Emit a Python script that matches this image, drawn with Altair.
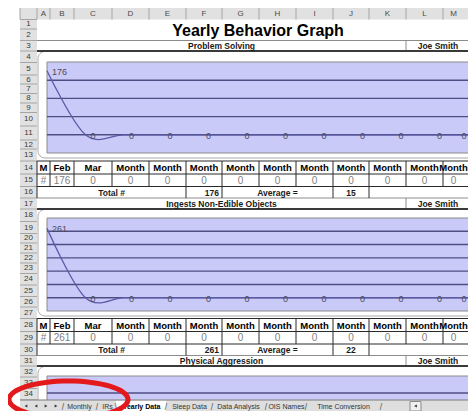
import math
import altair as alt
import pandas as pd

# ------------------------------------------------------------------ data
TITLE = "Yearly Behavior Graph"
STUDENT = "Joe Smith"
SECTIONS = ["Problem Solving", "Ingests Non-Edible Objects", "Physical Aggression"]
ROW_HEAD = ["M", "#"]
MONTHS = ["Feb", "Mar", "Month", "Month", "Month", "Month", "Month",
          "Month", "Month", "Month", "Month", "Month"]
PROBLEM_SOLVING = [176, 0, 0, 0, 0, 0, 0, 0, 0, 0, 0, 0]
INGESTS = [261, 0, 0, 0, 0, 0, 0, 0, 0, 0, 0, 0]
TOTALS = [176, 261]
AVERAGES = [15, 22]
TOTAL_LABEL = "Total #"
AVERAGE_LABEL = "Average ="
GRID_PS = [0, 50, 100, 150]
GRID_INE = [0, 50, 100, 150, 200, 250]
DOMAIN_PS = [-50, 200]
DOMAIN_INE = [-50, 300]
COLUMN_LETTERS = ["A", "B", "C", "D", "E", "F", "G", "H", "I", "J", "K", "L", "M"]
TABS = ["Monthly", "IRs", "Yearly Data", "Sleep Data", "Data Analysis",
        "OIS Names", "Time Conversion"]
ACTIVE_TAB = "Yearly Data"

# ------------------------------------------------------------------ layout (screen pixels)
W, H = 460, 403
OFF = 8
VIEW_R = OFF + W
HDR_L, HDR_B = 20, 19.5
COL_EDGES = [37, 50, 74, 112, 149, 186, 222, 259, 296, 333, 369, 406, 443, 476]
ROW_EDGES = [19.5, 29, 40.5, 51, 62.5, 75, 84, 93.5, 103, 112.5, 126, 140, 149,
             161, 174, 186.5, 198, 209, 221.5, 233.5, 243, 253, 263, 273.5, 285,
             296.5, 307, 318.5, 331.5, 344, 355.5, 366, 377, 388.5, 400, 411]
RIGHT = 476
PLOT_L, PLOT_R = 47, 470.5
BOX_L, BOX_R = 38, 474
PANELS = [(62, 153), (218, 311)]          # plot top / bottom
BOXES = [(51.5, 158), (209.5, 316), (366.5, 430)]
PLOT3 = (376, 420, 393)
SECTION_ROWS = [3, 17, 31]
TABLE_ROWS = [14, 28]
TAB_Y = (400, 412)
TAB_CENTERS = [79.5, 107.5, 141.5, 189.5, 238.5, 286.5, 343.5]
TAB_SEPS = [(63, "/"), (97, "/"), (116, "\\"), (166, "/"), (212, "/"), (266, "/"),
            (306, "/"), (381, "/")]
ACTIVE_BOX = (116, 166)
NAV = [(26, "triangle-left"), (36, "triangle-left"), (46, "triangle-right"), (56, "triangle-right")]
ELL_C = (68.5, 399.5)
ELL_RX, ELL_RY = 59.5, 18.5

FONT = "Liberation Sans, Arial, sans-serif"
LAV = "#CACAF8"
GRID = "#4E4E82"
LINE = "#5A5AA8"

FX = alt.Scale(domain=[OFF, OFF + W], range=[0, W], nice=False, zero=False)
FY = alt.Scale(domain=[OFF, OFF + H], range=[0, H], nice=False, zero=False)


def rc(r):
    return (ROW_EDGES[r - 1] + ROW_EDGES[r]) / 2


def cc(i):
    # centre of the visible part of a column
    return (COL_EDGES[i] + min(COL_EDGES[i + 1], VIEW_R - 4)) / 2


def fx(f):
    return alt.X(f"{f}:Q", scale=FX, axis=None)


def fy(f):
    return alt.Y(f"{f}:Q", scale=FY, axis=None)


def rects(rows, **kw):
    df = pd.DataFrame(rows, columns=["x1", "x2", "y1", "y2"])
    return alt.Chart(df).mark_rect(**kw).encode(
        x=fx("x1"), x2=alt.X2("x2"), y=fy("y1"), y2=alt.Y2("y2"))


def rules(rows, **kw):
    df = pd.DataFrame(rows, columns=["x1", "x2", "y1", "y2"])
    return alt.Chart(df).mark_rule(**kw).encode(
        x=fx("x1"), x2=alt.X2("x2"), y=fy("y1"), y2=alt.Y2("y2"))


def texts(rows, **kw):
    df = pd.DataFrame(rows, columns=["x", "y", "t"])
    kw.setdefault("font", FONT)
    return alt.Chart(df).mark_text(**kw).encode(x=fx("x"), y=fy("y"), text="t:N")


# ------------------------------------------------------------------ chrome
layers = []
layers.append(rects([(HDR_L, RIGHT, OFF, HDR_B), (HDR_L, COL_EDGES[0], HDR_B, ROW_EDGES[-2])],
                    fill="#E1E1E1"))
# chart boxes
layers.append(rects([(BOX_L, BOX_R, a, b) for a, b in BOXES], fill="white",
                    stroke="#A9A9A9", strokeWidth=1, cornerRadius=7))
layers.append(rects([(PLOT_L, PLOT_R, PLOT3[0], PLOT3[1])], fill=LAV, stroke="#8a8a8a", strokeWidth=1))
layers.append(rules([(PLOT_L, PLOT_R, PLOT3[2], PLOT3[2])], color=GRID, strokeWidth=1.4))
# header separators
sep = [(e, e, OFF, HDR_B) for e in [HDR_L] + COL_EDGES]
sep += [(HDR_L, COL_EDGES[0], e, e) for e in ROW_EDGES[:-1]]
layers.append(rules(sep, color="#A5A5A5", strokeWidth=1))
# section header boxes
thin, thick, vert = [], [], []
for r in SECTION_ROWS:
    t, b = ROW_EDGES[r - 1], ROW_EDGES[r]
    thin.append((COL_EDGES[0], RIGHT, t, t))
    thick.append((COL_EDGES[0], RIGHT, b, b))
    vert.append((COL_EDGES[11], COL_EDGES[11], t, b))
layers.append(rules(thin + vert, color="#8C8C8C", strokeWidth=1))
layers.append(rules(thick, color="#3A3A3A", strokeWidth=2))
# tables
tl = []
for base in TABLE_ROWS:
    t14, t15, t16, b16 = (ROW_EDGES[base - 1], ROW_EDGES[base], ROW_EDGES[base + 1],
                          ROW_EDGES[base + 2])
    for y in (t14, t15, t16):
        tl.append((COL_EDGES[0], RIGHT, y, y))
    for e in COL_EDGES:
        tl.append((e, e, t14, t16))
    for e in (COL_EDGES[0], COL_EDGES[5], COL_EDGES[6], COL_EDGES[9], COL_EDGES[10], RIGHT):
        tl.append((e, e, t16, b16))
layers.append(rules(tl, color="#2A2A2A", strokeWidth=1))

# header texts
layers.append(texts([(cc(i), (OFF + HDR_B) / 2 + 0.5, c) for i, c in enumerate(COLUMN_LETTERS)],
                    fontSize=8, color="#4A4A4A"))
layers.append(texts([((HDR_L + COL_EDGES[0]) / 2, rc(r), str(r)) for r in range(1, len(ROW_EDGES))],
                    fontSize=8, color="#3A3A3A"))
layers.append(texts([(258, 31, TITLE)], fontSize=16, fontWeight="bold", color="black"))
sec = []
for k, r in enumerate(SECTION_ROWS):
    sec.append(((COL_EDGES[0] + COL_EDGES[11]) / 2, rc(r) + 0.5, SECTIONS[k]))
    sec.append(((COL_EDGES[11] + VIEW_R) / 2 + 1, rc(r) + 0.5, STUDENT))
for k, base in enumerate(TABLE_ROWS):
    y16 = rc(base + 2) + 0.5
    sec.append(((COL_EDGES[0] + COL_EDGES[5]) / 2, y16, TOTAL_LABEL))
    sec.append(((COL_EDGES[6] + COL_EDGES[9]) / 2, y16, AVERAGE_LABEL))
    sec.append((cc(9), y16, str(AVERAGES[k])))
layers.append(texts(sec, fontSize=8.5, fontWeight="bold", color="#1a1a1a"))
layers.append(texts([(COL_EDGES[6] - 3, rc(b + 2) + 0.5, str(TOTALS[k])) for k, b in enumerate(TABLE_ROWS)],
                    fontSize=8.5, fontWeight="bold", color="#1a1a1a", align="right"))
hdr, vals = [], []
for k, base in enumerate(TABLE_ROWS):
    series = [PROBLEM_SOLVING, INGESTS][k]
    hdr.append((cc(0), rc(base) + 0.5, ROW_HEAD[0]))
    vals.append((cc(0), rc(base + 1) + 0.5, ROW_HEAD[1]))
    for i, m in enumerate(MONTHS):
        hdr.append((cc(i + 1), rc(base) + 0.5, m))
        vals.append((cc(i + 1), rc(base + 1) + 0.5, str(series[i])))
layers.append(texts(hdr, fontSize=9.5, fontWeight="bold", color="black"))
layers.append(texts(vals, fontSize=10, color="#808080"))

chrome = alt.layer(*layers)


# ------------------------------------------------------------------ line panels
def panel(values, grid, dom, top, bottom):
    xs = alt.Scale(domain=[0, len(values) - 1], range=[PLOT_L - OFF, PLOT_R - OFF], nice=False, zero=False)
    ys = alt.Scale(domain=dom, range=[bottom - OFF, top - OFF], nice=False, zero=False)
    n = len(values) - 1
    X = alt.X("i:Q", scale=xs, axis=None)
    Y = alt.Y("v:Q", scale=ys, axis=None)
    bg = alt.Chart(pd.DataFrame({"a": [0], "b": [n], "c": [dom[0]], "d": [dom[1]]})).mark_rect(
        fill=LAV, stroke="#8a8a8a", strokeWidth=1).encode(
        x=alt.X("a:Q", scale=xs, axis=None), x2="b", y=alt.Y("c:Q", scale=ys, axis=None), y2="d")
    gdf = pd.DataFrame({"g": grid, "a": [0] * len(grid), "b": [n] * len(grid)})
    gl = alt.Chart(gdf).mark_rule(color=GRID, strokeWidth=1.4).encode(
        x=alt.X("a:Q", scale=xs, axis=None), x2="b", y=alt.Y("g:Q", scale=ys, axis=None))
    df = pd.DataFrame({"i": list(range(len(values))), "v": values, "lbl": [str(v) for v in values]})
    ln = alt.Chart(df).mark_line(interpolate="cardinal", color=LINE, strokeWidth=1.3).encode(x=X, y=Y)
    lb = alt.Chart(df.iloc[:-1]).mark_text(align="left", dx=5, dy=1, fontSize=9, font=FONT,
                                           color="#4a4a5a").encode(x=X, y=Y, text="lbl:N")
    # last label kept inside the visible page edge
    lb_last = alt.Chart(df.iloc[-1:]).mark_text(align="right", dx=-4, dy=1, fontSize=9, font=FONT,
                                                color="#4a4a5a").encode(x=X, y=Y, text="lbl:N")
    return alt.layer(bg, gl, ln, lb, lb_last)


p1 = panel(PROBLEM_SOLVING, GRID_PS, DOMAIN_PS, *PANELS[0])
p2 = panel(INGESTS, GRID_INE, DOMAIN_INE, *PANELS[1])

# ------------------------------------------------------------------ sheet tabs + highlight
ov = []
ov.append(rects([(HDR_L, RIGHT, TAB_Y[0], TAB_Y[1]), (OFF, RIGHT, TAB_Y[1], OFF + H)], fill="#DEDEDE"))
ov.append(rects([(ACTIVE_BOX[0], ACTIVE_BOX[1], TAB_Y[0] + 0.5, TAB_Y[1])], fill="white"))
ov.append(rules([(HDR_L, RIGHT, TAB_Y[0], TAB_Y[0])], color="#7A7A7A", strokeWidth=1))
ov.append(rects([(410, 421, TAB_Y[0] + 1.5, TAB_Y[1] - 1)], fill="#EFEFEF", stroke="#8a8a8a", strokeWidth=1))
ov.append(texts([(TAB_CENTERS[i], (TAB_Y[0] + TAB_Y[1]) / 2 + 0.5, t) for i, t in enumerate(TABS) if t != ACTIVE_TAB],
                fontSize=7, color="#333333"))
ov.append(texts([(TAB_CENTERS[i], (TAB_Y[0] + TAB_Y[1]) / 2 + 0.5, t) for i, t in enumerate(TABS) if t == ACTIVE_TAB],
                fontSize=7, fontWeight="bold", color="black"))
ov.append(texts([(x, (TAB_Y[0] + TAB_Y[1]) / 2 + 0.5, s) for x, s in TAB_SEPS], fontSize=8.5, color="#555555"))
navdf = pd.DataFrame([(x, (TAB_Y[0] + TAB_Y[1]) / 2, s) for x, s in NAV] + [(415.5, (TAB_Y[0] + TAB_Y[1]) / 2, "triangle-left")],
                     columns=["x", "y", "s"])
ov.append(alt.Chart(navdf).mark_point(filled=True, size=10, color="#333333", opacity=1).encode(
    x=fx("x"), y=fy("y"), shape=alt.Shape("s:N", scale=None)))
ratio = ELL_RY / ELL_RX
pts = [f"{math.cos(2 * math.pi * k / 64):.4f},{ratio * math.sin(2 * math.pi * k / 64):.4f}" for k in range(64)]
ell_path = "M" + " L".join(pts) + " Z"
ov.append(alt.Chart(pd.DataFrame({"x": [ELL_C[0]], "y": [ELL_C[1]]})).mark_point(
    shape=ell_path, size=(2 * ELL_RX) ** 2, filled=False, stroke="#E3191C", strokeWidth=5, opacity=1).encode(
    x=fx("x"), y=fy("y")))
overlay = alt.layer(*ov)

chart = alt.layer(chrome, p1, p2, overlay).resolve_scale(
    x="independent", y="independent").properties(
    width=W, height=H, padding=0, background="white",
    autosize=alt.AutoSizeParams(type="none")).configure_view(stroke=None)

chart.save("out.html", embed_options={"renderer": "svg", "actions": False})
